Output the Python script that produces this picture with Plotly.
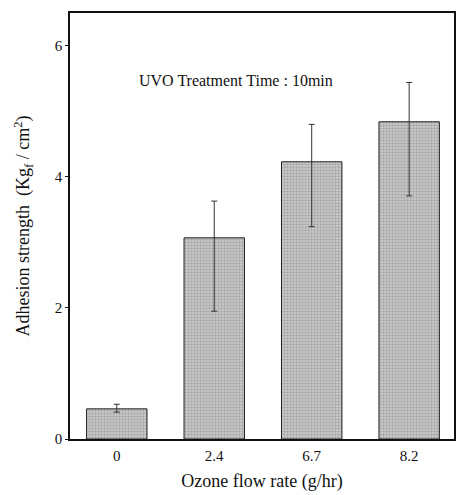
import plotly.graph_objects as go

categories = ["0", "2.4", "6.7", "8.2"]
strength = [0.46, 3.07, 4.23, 4.84]
err_plus = [0.07, 0.56, 0.57, 0.60]
err_minus = [0.05, 1.12, 0.99, 1.13]
y_ticks = [0, 2, 4, 6]

FONT = "Liberation Serif, Times New Roman, serif"

fig = go.Figure()
fig.add_trace(go.Bar(
    x=list(range(len(categories))),
    y=strength,
    width=0.62,
    marker=dict(
        color="#b8b8b8",
        line=dict(color="#222", width=1),
        pattern=dict(shape=".", fgcolor="#7a7a7a", bgcolor="#c8c8c8", size=3, solidity=0.4),
    ),
    error_y=dict(type="data", array=err_plus, arrayminus=err_minus, symmetric=False,
                 color="#333", thickness=1, width=3),
))

fig.add_annotation(x=0.21, y=5.47, xref="x", yref="y", text="UVO Treatment Time : 10min",
                   showarrow=False, xanchor="left", font=dict(family=FONT, size=16, color="#111"))

fig.update_layout(
    width=460, height=495,
    margin=dict(l=70, r=4, t=13, b=56),
    paper_bgcolor="white", plot_bgcolor="white",
    showlegend=False,
    font=dict(family=FONT, size=15, color="#111"),
    xaxis=dict(
        range=[-0.48, 3.46],
        tickvals=list(range(len(categories))), ticktext=categories,
        showgrid=False, zeroline=False,
        showline=True, linecolor="#111", linewidth=1.5, mirror=True,
        ticks="", ticklabelstandoff=2,
        title=dict(text="Ozone flow rate (g/hr)", font=dict(family=FONT, size=18), standoff=12),
    ),
    yaxis=dict(
        range=[0, 6.5],
        tickvals=y_ticks,
        showgrid=False, zeroline=False,
        showline=True, linecolor="#111", linewidth=1.5, mirror=True,
        ticks="outside", ticklen=3, tickcolor="#111",
        title=dict(text="Adhesion strength  (Kg<sub>f</sub> / cm<sup>2</sup>)",
                   font=dict(family=FONT, size=18), standoff=20),
    ),
)

fig.write_html("out.html")
